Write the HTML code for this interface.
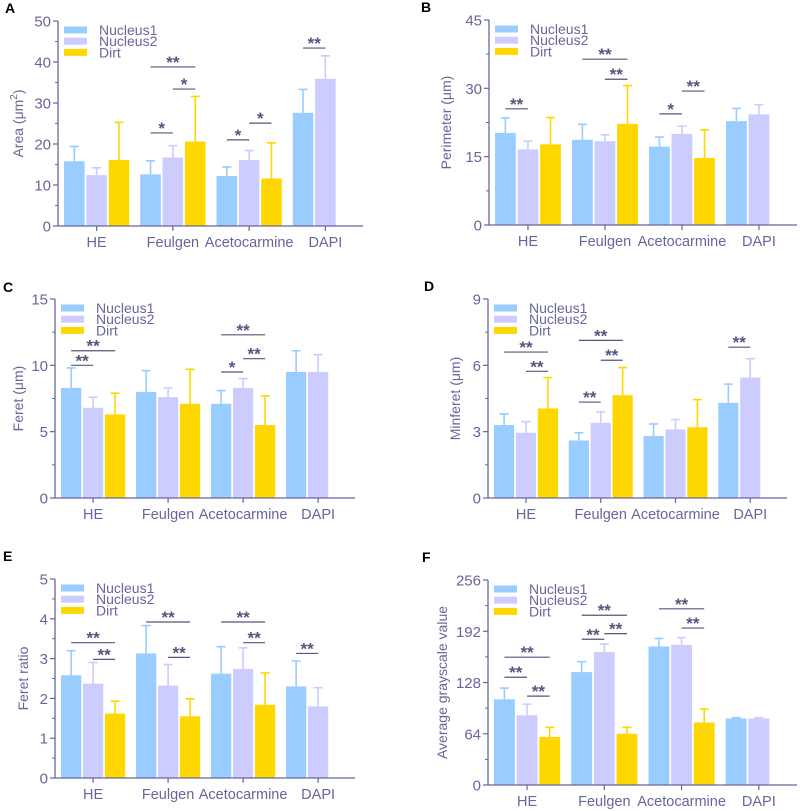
<!DOCTYPE html>
<html><head><meta charset="utf-8"><style>
body{margin:0;background:#fff;}
svg{display:block;font-family:"Liberation Sans",sans-serif;}
</style></head><body>
<svg id="fig" width="800" height="811" viewBox="0 0 800 811"></svg>
<script>
const categories = ["HE","Feulgen","Acetocarmine","DAPI"];
const seriesNames = ["Nucleus1","Nucleus2","Dirt"];
const seriesColors = ["#99ccff","#ccccff","#ffd700"];

const areaMeans = [[15.8,12.4,16.1],[12.6,16.7,20.6],[12.2,16.1,11.6],[27.6,35.9]];
const areaTops  = [[19.4,14.2,25.3],[15.9,19.6,31.6],[14.4,18.4,20.3],[33.3,41.5]];
const areaSig   = [[1,0,2,38.8,"**"],[1,1,2,33.4,"*"],[1,0,1,22.7,"*"],[2,0,1,21,"*"],[2,1,2,25.1,"*"],[3,0,1,43.4,"**"]];

const periMeans = [[20.2,16.6,17.7],[18.7,18.4,22.2],[17.2,20.0,14.7],[22.8,24.3]];
const periTops  = [[23.5,18.4,23.6],[22.1,19.8,30.6],[19.3,21.7,20.9],[25.6,26.4]];
const periSig   = [[0,0,1,25.5,"**"],[1,0,2,36.4,"**"],[1,1,2,32,"**"],[2,0,1,24.4,"*"],[2,1,2,29.4,"**"]];

const feretMeans = [[8.3,6.8,6.3],[8.0,7.6,7.1],[7.1,8.3,5.5],[9.5,9.5]];
const feretTops  = [[9.8,7.6,7.9],[9.6,8.3,9.7],[8.1,9.0,7.7],[11.1,10.8]];
const feretSig   = [[0,0,1,10.0,"**"],[0,0,2,11.1,"**"],[2,0,1,9.5,"*"],[2,1,2,10.5,"**"],[2,0,2,12.3,"**"]];

const minMeans = [[3.3,2.95,4.05],[2.6,3.4,4.65],[2.8,3.1,3.2],[4.3,5.45]];
const minTops  = [[3.8,3.45,5.45],[2.95,3.9,5.9],[3.35,3.55,4.45],[5.15,6.3]];
const minSig   = [[0,0,2,6.6,"**"],[0,1,2,5.73,"**"],[1,0,2,7.13,"**"],[1,1,2,6.23,"**"],[1,0,1,4.34,"**"],[3,0,1,6.82,"**"]];

const ratioMeans = [[2.58,2.37,1.62],[3.13,2.32,1.55],[2.62,2.74,1.84],[2.3,1.8]];
const ratioTops  = [[3.2,2.9,1.93],[3.83,2.85,1.99],[3.3,3.27,2.64],[2.94,2.27]];
const ratioSig   = [[0,0,2,3.4,"**"],[0,1,2,2.98,"**"],[1,0,2,3.92,"**"],[1,1,2,3.03,"**"],[2,0,2,3.92,"**"],[2,1,2,3.4,"**"],[3,0,1,3.13,"**"]];

const grayMeans = [[107,87,60],[141,166,64],[173,175,78],[83,83]];
const grayTops  = [[121,101,72],[154,176,72],[183,184,95],[84,84]];
const graySig   = [[0,0,2,159.6,"**"],[0,0,1,134.6,"**"],[0,1,2,111,"**"],[1,0,2,212,"**"],[1,0,1,182,"**"],[1,1,2,189,"**"],[2,0,2,220,"**"],[2,1,2,196,"**"]];

const panels = [
 {id:"a",letter:"A",lx:5,ly:13,ax:58,top:21,bot:226,right:363,max:50,step:10,title:"Area (μm",sup:"2",tOff:35,means:areaMeans,tops:areaTops,sig:areaSig},
 {id:"b",letter:"B",lx:421,ly:12,ax:489,top:20,bot:225,right:797,max:45,step:15,title:"Perimeter (μm)",tOff:38,means:periMeans,tops:periTops,sig:periSig},
 {id:"c",letter:"C",lx:3,ly:292,ax:55,top:299,bot:498,right:355,max:15,step:5,title:"Feret (μm)",tOff:32,means:feretMeans,tops:feretTops,sig:feretSig},
 {id:"d",letter:"D",lx:424,ly:291,ax:488,top:299,bot:498,right:787,max:9,step:3,title:"Minferet (μm)",tOff:28,means:minMeans,tops:minTops,sig:minSig},
 {id:"e",letter:"E",lx:3,ly:561,ax:55,top:579,bot:778,right:355,max:5,step:1,title:"Feret ratio",tOff:27,means:ratioMeans,tops:ratioTops,sig:ratioSig},
 {id:"f",letter:"F",lx:422,ly:562,ax:488,top:580,bot:785,right:797,max:256,step:64,title:"Average grayscale value",tOff:41,means:grayMeans,tops:grayTops,sig:graySig}
];

const NS="http://www.w3.org/2000/svg";
const svg=document.getElementById("fig");
const AX="#66669a", TXT="#66669a", SIG="#55557e";
function mk(tag,attrs,parent){const e=document.createElementNS(NS,tag);for(const k in attrs)e.setAttribute(k,attrs[k]);(parent||svg).appendChild(e);return e;}

panels.forEach(p=>{
  const g=mk("g",{});
  
  
  const yS=v=>p.bot - v/p.max*(p.bot-p.top);
  const slot=(p.right-p.ax)/4;
  const bw=slot*0.27, bs=slot*0.293;
  const bx=(gi,si)=>p.ax+6+gi*slot+si*bs;
  const gc=gi=>p.ax+6+gi*slot+(2*bs+bw)/2;

  const L=mk("text",{x:p.lx,y:p.ly,"font-size":14,"font-weight":"bold",fill:"#000"},g);
  L.textContent=p.letter;
  
  

  p.means.forEach((grp,gi)=>{
    grp.forEach((v,si)=>{
      const x=bx(gi,si), cx=x+bw/2;
      const r=mk("rect",{x:x,y:yS(v),width:bw,height:p.bot-yS(v),fill:seriesColors[si]},g);
      
      
      const t=p.tops[gi][si];
      const eb=mk("path",{d:`M${cx},${yS(v)}V${yS(t)}M${cx-4.5},${yS(t)}H${cx+4.5}`,stroke:seriesColors[si],"stroke-width":1.6,fill:"none"},g);
      
      
    });
  });

  const ya=mk("line",{x1:p.ax,y1:p.top,x2:p.ax,y2:p.bot,stroke:AX,"stroke-width":1.3},g);
  
  
  const xa=mk("line",{x1:p.ax,y1:p.bot,x2:p.right,y2:p.bot,stroke:AX,"stroke-width":1.3},g);
  
  
  for(let v=0;v<=p.max+1e-9;v+=p.step){
    const y=yS(v);
    mk("line",{x1:p.ax-5,y1:y,x2:p.ax,y2:y,stroke:AX,"stroke-width":1.2},g);
    const t=mk("text",{x:p.ax-7,y:y+5.5,"font-size":15,"text-anchor":"end",fill:TXT},g);
    t.textContent=String(v);
    
    
    if(v+p.step/2<p.max){const ym=yS(v+p.step/2);mk("line",{x1:p.ax-3,y1:ym,x2:p.ax,y2:ym,stroke:AX,"stroke-width":1},g);}
  }
  categories.forEach((c,gi)=>{
    const x=gc(gi);
    mk("line",{x1:x,y1:p.bot,x2:x,y2:p.bot+5,stroke:AX,"stroke-width":1.2},g);
    const t=mk("text",{x:x,y:p.bot+21,"font-size":14.5,"text-anchor":"middle",fill:TXT},g);
    t.textContent=c;
    
    
  });
  const cy=(p.top+p.bot)/2, tx=p.ax-p.tOff;
  const yt=mk("text",{x:tx,y:cy,"font-size":14,"text-anchor":"middle",fill:TXT,transform:`rotate(-90 ${tx} ${cy})`},g);
  yt.textContent=p.title;
  if(p.sup){const s=mk("tspan",{"font-size":10,dy:-6},yt);s.textContent=p.sup;const s2=mk("tspan",{dy:6},yt);s2.textContent=")";}
  
  

  seriesNames.forEach((n,si)=>{
    const ry=p.top+9+si*11.2;
    const lx=p.ax+6;
    const sw=mk("rect",{x:lx,y:ry-3.5,width:23,height:7,fill:seriesColors[si]},g);
    
    
    const t=mk("text",{x:lx+35,y:ry+5,"font-size":14,fill:TXT},g);
    t.textContent=n;
    
    
  });

  p.sig.forEach(s=>{
    const [gi,a,b,v,lab]=s;
    const x1=bx(gi,a)+bw/2, x2=bx(gi,b)+bw/2, y=yS(v);
    const ln=mk("line",{x1:x1,y1:y,x2:x2,y2:y,stroke:SIG,"stroke-width":1.2},g);
    
    
    const t=mk("text",{x:(x1+x2)/2,y:y+1,"font-size":17,"text-anchor":"middle",fill:SIG,"font-weight":"bold"},g);
    t.textContent=lab;
    
    
  });
});
</script>
</body></html>
